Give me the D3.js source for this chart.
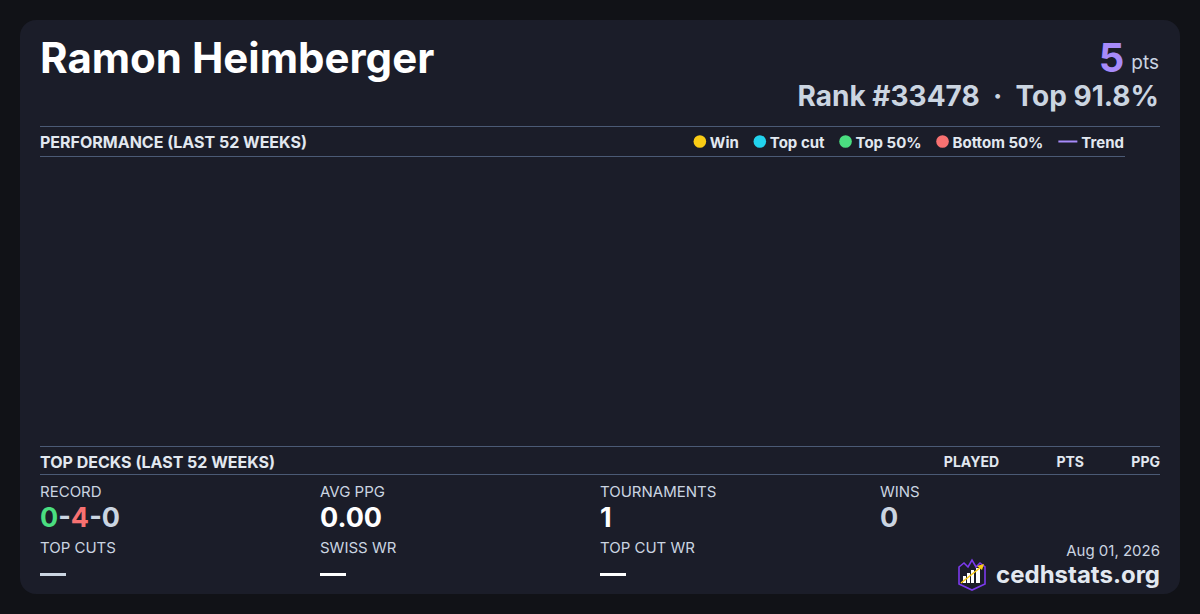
<!DOCTYPE html>
<html><head><meta charset="utf-8">
<script src="https://cdn.jsdelivr.net/npm/d3@7"></script>
<style>
html,body{margin:0;padding:0;background:#111217;}
svg{display:block;font-family:Inter,"Noto Sans",sans-serif;}
</style></head>
<body>
<svg id="c" width="1200" height="614"></svg>
<script>
// ---- data ----
const playerName = "Ramon Heimberger";
const points = 5;
const rank = 33478;
const topPct = "91.8%";
const legendLabels = ["Win", "Top cut", "Top 50%", "Bottom 50%", "Trend"];
const legendColors = ["#facc15", "#22d3ee", "#4ade80", "#f87171", "#a78bfa"];
const weeks = [];          // no weekly results in the last 52 weeks
const weekResults = [];    // empty series
const deckColumns = ["PLAYED", "PTS", "PPG"];
const decks = [];
const recordParts = ["0", "4", "0"];
const recordColors = ["#4ade80", "#f87171", "#cbd5e1"];
const statLabels1 = ["RECORD", "AVG PPG", "TOURNAMENTS", "WINS"];
const statValues1 = [null, "0.00", "1", "0"];
const statColors1 = [null, "#ffffff", "#ffffff", "#cbd5e1"];
const statLabels2 = ["TOP CUTS", "SWISS WR", "TOP CUT WR"];
const statColors2 = ["#cbd5e1", "#ffffff", "#ffffff"];
const dateLabel = "Aug 01, 2026";
const siteLabel = "cedhstats.org";

const svg = d3.select("#c");
const lineCol = "#4b5a75";

svg.append("rect").attr("x",20).attr("y",20).attr("width",1160).attr("height",574).attr("rx",16).attr("fill","#1b1d29");

// header
svg.append("text").attr("x",40).attr("y",73).attr("fill","#ffffff").attr("font-size",42).attr("font-weight",700).text(playerName);
const pts = svg.append("text").attr("x",1159).attr("y",72).attr("text-anchor","end");
pts.append("tspan").attr("fill","#a78bfa").attr("font-size",40).attr("font-weight",700).text(points);
pts.append("tspan").attr("fill","#cbd5e1").attr("font-size",19).attr("dx",7).attr("dy",-3).text("pts");
svg.append("text").attr("x",1159).attr("y",106).attr("text-anchor","end").attr("fill","#cbd5e1")
  .attr("font-size",28).attr("font-weight",700).attr("xml:space","preserve")
  .text(`Rank #${rank}  ·  Top ${topPct}`);

// performance section
svg.append("line").attr("x1",40).attr("x2",1160).attr("y1",126.5).attr("y2",126.5).attr("stroke",lineCol);
svg.append("text").attr("x",40).attr("y",148).attr("fill","#e2e8f0").attr("font-size",16).attr("font-weight",700).text("PERFORMANCE (LAST 52 WEEKS)");
svg.append("line").attr("x1",40).attr("x2",1125).attr("y1",156.5).attr("y2",156.5).attr("stroke",lineCol);

// legend laid out right-to-left
const lg = svg.append("g");
let cursor = 1124;
const tmp = svg.append("text").attr("font-size",15).attr("font-weight",700);
const widths = legendLabels.map(l => { tmp.text(l); return tmp.node().getComputedTextLength(); });
tmp.remove();
const pos = [];
for (let i = legendLabels.length - 1; i >= 0; i--) {
  const markW = i === legendLabels.length - 1 ? 19 : 12;
  const textX = cursor - widths[i];
  const markX = textX - 4 - markW;
  pos[i] = {textX, markX, markW};
  cursor = markX - 15;
}
legendLabels.forEach((l, i) => {
  const p = pos[i];
  if (i === legendLabels.length - 1) {
    lg.append("line").attr("x1",p.markX).attr("x2",p.markX+p.markW).attr("y1",141.5).attr("y2",141.5).attr("stroke",legendColors[i]).attr("stroke-width",2);
  } else {
    lg.append("circle").attr("cx",p.markX+6).attr("cy",141.5).attr("r",6.3).attr("fill",legendColors[i]);
  }
  lg.append("text").attr("x",p.textX).attr("y",147.5).attr("fill","#e2e8f0").attr("font-size",15).attr("font-weight",700).text(l);
});

// chart area (empty: no results)
const x = d3.scalePoint().domain(weeks).range([40, 1125]);
const y = d3.scaleLinear().domain([0, 1]).range([440, 165]);
svg.append("g").selectAll("circle").data(weekResults).join("circle")
  .attr("cx", d => x(d.week)).attr("cy", d => y(d.value)).attr("r", 5)
  .attr("fill", d => legendColors[d.cls]);

// top decks
svg.append("line").attr("x1",40).attr("x2",1160).attr("y1",446.5).attr("y2",446.5).attr("stroke",lineCol);
svg.append("text").attr("x",40).attr("y",468).attr("fill","#e2e8f0").attr("font-size",16).attr("font-weight",700).text("TOP DECKS (LAST 52 WEEKS)");
const colX = [999, 1084, 1160];
deckColumns.forEach((c, i) => svg.append("text").attr("x",colX[i]).attr("y",467).attr("text-anchor","end")
  .attr("fill","#e2e8f0").attr("font-size",14).attr("font-weight",700).text(c));
svg.append("line").attr("x1",40).attr("x2",1160).attr("y1",474.5).attr("y2",474.5).attr("stroke",lineCol);

// stats
const sx = [40, 320, 600, 880];
statLabels1.forEach((l, i) => {
  svg.append("text").attr("x",sx[i]).attr("y",497).attr("fill","#cbd5e1").attr("font-size",15).text(l);
  if (statValues1[i] === null) {
    const t = svg.append("text").attr("x",sx[i]).attr("y",527).attr("font-size",27).attr("font-weight",700);
    recordParts.forEach((p, j) => {
      if (j > 0) t.append("tspan").attr("fill","#cbd5e1").text("-");
      t.append("tspan").attr("fill",recordColors[j]).text(p);
    });
  } else {
    svg.append("text").attr("x",sx[i]).attr("y",527).attr("fill",statColors1[i]).attr("font-size",27).attr("font-weight",700).text(statValues1[i]);
  }
});
statLabels2.forEach((l, i) => {
  svg.append("text").attr("x",sx[i]).attr("y",553).attr("fill","#cbd5e1").attr("font-size",15).text(l);
  svg.append("rect").attr("x",sx[i]).attr("y",573).attr("width",26).attr("height",3).attr("fill",statColors2[i]);
});

// footer
svg.append("text").attr("x",1160).attr("y",556).attr("text-anchor","end").attr("fill","#cbd5e1").attr("font-size",15).text(dateLabel);
svg.append("text").attr("x",1160).attr("y",583).attr("text-anchor","end").attr("fill","#e2e8f0").attr("font-size",24).attr("font-weight",700).text(siteLabel);

// logo
const logo = svg.append("g").attr("transform","translate(958,559)");
logo.append("path").attr("d","M1,8 L6,4 L10,8 L14,1 L18,8 L22,4 L27,8 L27,25 L14,31 L1,25 Z").attr("fill","#1b1d29").attr("stroke","#7c3aed").attr("stroke-width",1.6);
[[5,17,3,7],[9,14,3,10],[13,11,3,13],[18,9,4,15]].forEach(b =>
  logo.append("rect").attr("x",b[0]).attr("y",b[1]).attr("width",b[2]).attr("height",b[3]).attr("fill","#ffffff"));
logo.append("line").attr("x1",3).attr("y1",24).attr("x2",23).attr("y2",8).attr("stroke","#facc15").attr("stroke-width",1.6);
logo.append("path").attr("d","M26,5 L19,7 L24,11 Z").attr("fill","#facc15");
</script>
</body></html>
